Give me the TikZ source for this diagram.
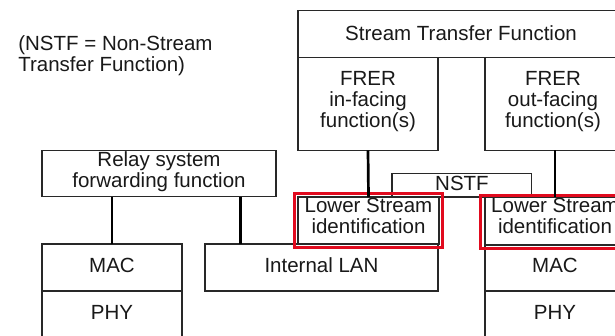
\documentclass[tikz,border=0pt]{standalone}
\usepackage{fontspec}
\setmainfont{Liberation Sans}
\definecolor{linegray}{RGB}{40,40,40}
\definecolor{hlred}{RGB}{225,10,30}
\begin{document}
\begin{tikzpicture}[x=1pt,y=-1pt,
  box/.style={draw=linegray,line width=1.3pt,fill=white,rectangle,inner sep=0pt,outer sep=0pt},
  redbox/.style={draw=hlred,line width=3pt,rectangle,inner sep=0pt,outer sep=0pt},
  conn/.style={draw=black,line width=2.7pt},
  txt/.style={font=\fontsize{20.5}{20.7}\selectfont,inner sep=0pt,outer sep=0pt,text=black!90,align=center}]
\clip (0,0) rectangle (615,335);
% boxes (top-left corner, size)
\node[box,anchor=north west,minimum width=327pt,minimum height=46.6pt] (stf) at (298,10.7) {};
\node[box,anchor=north west,minimum width=140pt,minimum height=93pt] (frin) at (298,57.3) {};
\node[box,anchor=north west,minimum width=140pt,minimum height=93pt] (frout) at (485,57.3) {};
\node[box,anchor=north west,minimum width=234pt,minimum height=46pt] (relay) at (42,150.7) {};
\node[box,anchor=north west,minimum width=139.5pt,minimum height=23.7pt] (nstf) at (392,173.3) {};
\node[box,anchor=north west,minimum width=141pt,minimum height=47.5pt] (lsl) at (298,197) {};
\node[box,anchor=north west,minimum width=140pt,minimum height=48pt] (lsr) at (485,197) {};
\node[box,anchor=north west,minimum width=233pt,minimum height=47pt] (lan) at (205,244) {};
\node[box,anchor=north west,minimum width=140pt,minimum height=47pt] (macl) at (42,244) {};
\node[box,anchor=north west,minimum width=140pt,minimum height=60pt] (phyl) at (42,291) {};
\node[box,anchor=north west,minimum width=140pt,minimum height=46pt] (macr) at (485,245) {};
\node[box,anchor=north west,minimum width=140pt,minimum height=60pt] (phyr) at (485,291) {};
% red highlight boxes
\node[redbox,anchor=north west,minimum width=148pt,minimum height=53.5pt] (redl) at (294,193.5) {};
\node[redbox,anchor=north west,minimum width=150pt,minimum height=53pt] (redr) at (480,195) {};
% connectors
\draw[conn] (frin.south) -- (lsl.north);
\draw[conn] (frout.south) -- (lsr.north);
\draw[conn] (macl.north) -- (macl.north |- relay.south);
\draw[conn] ([xshift=81.7pt]relay.south) -- ([xshift=81.7pt]relay.south |- lan.north);
% texts (base anchor = baseline of the last line)
\node[txt,anchor=base west,align=left] (note) at (18.3,71) {(NSTF = Non-Stream\\Transfer Function)};
\node[txt,anchor=base] (stft) at (461,40) {Stream Transfer Function};
\node[txt,anchor=base] (frint) at (368,127) {FRER\\in-facing\\function(s)};
\node[txt,anchor=base] (froutt) at (553,127) {FRER\\out-facing\\function(s)};
\node[txt,anchor=base] (relayt) at (159,187) {Relay system\\forwarding function};
\node[txt,anchor=base] (nstft) at (462,190) {NSTF};
\node[txt,anchor=base] (lslt) at (368.5,233) {Lower Stream\\identification};
\node[txt,anchor=base] (lsrt) at (555,233) {Lower Stream\\identification};
\node[txt,anchor=base] (lant) at (321.5,272.5) {Internal LAN};
\node[txt,anchor=base] (maclt) at (112,272.5) {MAC};
\node[txt,anchor=base] (phylt) at (112,319) {PHY};
\node[txt,anchor=base] (macrt) at (555,272.5) {MAC};
\node[txt,anchor=base] (phyrt) at (555,319) {PHY};
\end{tikzpicture}
\end{document}
